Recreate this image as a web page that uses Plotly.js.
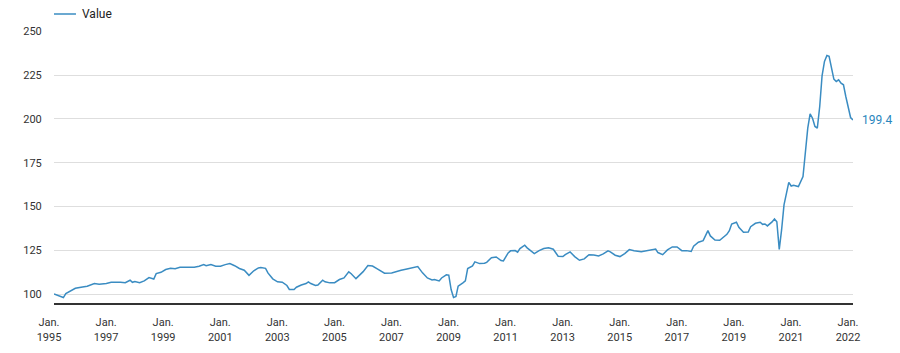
<!DOCTYPE html>
<html>
<head>
<meta charset="utf-8">
<script src="https://cdn.plot.ly/plotly-3.0.1.min.js"></script>
<style>html,body{margin:0;padding:0;background:#fff;}#chart{width:900px;height:353px;}</style>
</head>
<body>
<div id="chart"></div>
<script>
const seriesName = 'Value';
const dates = ['1995-01','1995-04','1995-05','1995-06','1995-08','1995-10','1996-01','1996-03','1996-06','1996-08','1996-11','1997-01','1997-05','1997-07','1997-09','1997-10','1997-11','1998-01','1998-03','1998-05','1998-07','1998-08','1998-10','1998-12','1999-02','1999-04','1999-06','1999-09','1999-12','2000-02','2000-04','2000-05','2000-07','2000-09','2000-11','2001-01','2001-03','2001-05','2001-07','2001-09','2001-11','2002-01','2002-03','2002-04','2002-06','2002-07','2002-09','2002-11','2003-01','2003-03','2003-04','2003-06','2003-07','2003-09','2003-11','2003-12','2004-01','2004-03','2004-04','2004-06','2004-07','2004-09','2004-11','2005-01','2005-03','2005-05','2005-06','2005-08','2005-11','2006-01','2006-03','2006-05','2006-07','2006-08','2006-11','2007-01','2007-03','2007-05','2007-07','2007-09','2007-10','2007-12','2008-02','2008-04','2008-05','2008-07','2008-08','2008-10','2008-11','2008-12','2009-01','2009-02','2009-03','2009-05','2009-06','2009-07','2009-09','2009-10','2009-12','2010-02','2010-03','2010-05','2010-07','2010-09','2010-10','2010-12','2011-01','2011-03','2011-04','2011-05','2011-07','2011-08','2011-10','2011-11','2012-01','2012-03','2012-05','2012-07','2012-09','2012-11','2012-12','2013-02','2013-04','2013-06','2013-08','2013-10','2013-12','2014-02','2014-04','2014-06','2014-07','2014-09','2014-11','2015-01','2015-03','2015-05','2015-08','2015-11','2016-01','2016-02','2016-03','2016-05','2016-07','2016-09','2016-11','2017-01','2017-03','2017-05','2017-06','2017-08','2017-10','2017-11','2017-12','2018-01','2018-03','2018-05','2018-06','2018-08','2018-09','2018-10','2018-12','2019-01','2019-03','2019-05','2019-06','2019-08','2019-10','2019-11','2019-12','2020-01','2020-03','2020-04','2020-05','2020-06','2020-07','2020-08','2020-10','2020-11','2020-12','2021-01','2021-02','2021-04','2021-05','2021-06','2021-07','2021-08','2021-09','2021-10','2021-11','2021-12','2022-01','2022-02','2022-03','2022-04','2022-05','2022-06','2022-07','2022-08','2022-09','2022-10','2022-11','2022-12','2023-01'];
const values = [100.0,98.2,98.0,100.3,101.9,103.3,104.1,104.5,106.0,105.6,106.0,106.7,106.7,106.5,107.9,106.7,107.1,106.5,107.5,109.4,108.6,111.7,112.4,114.0,114.7,114.5,115.3,115.5,115.3,115.9,116.8,116.2,116.8,115.9,115.9,116.8,117.4,116.2,114.6,113.6,110.7,113.3,114.9,115.1,114.7,112.1,108.7,107.0,106.8,104.9,102.6,102.6,103.9,105.2,106.0,107.0,106.0,104.9,105.2,107.9,107.0,106.4,106.5,108.3,109.2,112.7,111.6,108.8,112.8,116.3,116.0,114.4,113.0,111.9,112.1,113.0,113.6,114.2,114.7,115.1,115.7,112.1,109.2,108.1,108.3,107.5,109.2,111.0,110.8,102.6,98.0,98.6,104.5,106.4,107.5,114.6,116.1,118.4,117.4,117.6,118.1,120.7,121.2,119.1,118.9,123.5,124.7,124.8,123.9,126.0,127.9,126.4,123.9,123.1,124.8,126.0,126.4,125.6,121.6,121.4,122.5,124.1,121.4,119.3,120.1,122.5,122.3,121.8,122.9,124.7,124.1,122.2,121.4,123.1,125.4,124.7,124.1,124.8,125.4,125.7,123.7,122.5,125.2,126.9,126.9,124.8,124.8,124.3,127.3,129.6,130.5,133.5,136.2,133.2,130.9,130.7,131.8,134.1,136.2,140.0,141.0,138.1,135.3,135.4,138.5,140.4,141.0,139.8,140.0,138.9,141.2,142.9,141.3,125.5,136.6,150.9,163.8,161.7,162.1,161.9,161.4,167.1,180.4,194.7,202.9,200.4,195.7,194.7,207.1,224.6,232.8,236.2,235.7,230.0,222.7,221.4,222.3,220.4,219.5,212.8,206.1,200.8,199.4];
const xTickVals = ['1995-01','1997-01','1999-01','2001-01','2003-01','2005-01','2007-01','2009-01','2011-01','2013-01','2015-01','2017-01','2019-01','2021-01','2023-01'];
const xTickText = ['Jan.<br>1995','Jan.<br>1997','Jan.<br>1999','Jan.<br>2001','Jan.<br>2003','Jan.<br>2005','Jan.<br>2007','Jan.<br>2009','Jan.<br>2011','Jan.<br>2013','Jan.<br>2015','Jan.<br>2017','Jan.<br>2019','Jan.<br>2021','Jan.<br>2022'];
const yTickVals = [100,125,150,175,200,225,250];

const lineColor = '#3a8cc2';
const lastDate = dates[dates.length-1];
const lastVal = values[values.length-1];

const trace = {
  x: dates, y: values, type: 'scatter', mode: 'lines', name: seriesName,
  line: {color: lineColor, width: 1.5}, hoverinfo: 'x+y', showlegend: false
};

const layout = {
  width: 900, height: 353,
  margin: {l: 54, r: 47, t: 31, b: 50, pad: 0},
  paper_bgcolor: '#fff', plot_bgcolor: '#fff',
  font: {family: 'Roboto, Arial, sans-serif', size: 11, color: '#333'},
  showlegend: false,
  xaxis: {
    type: 'date', range: ['1995-01-01', '2023-01-01'],
    tickmode: 'array', tickvals: xTickVals, ticktext: xTickText,
    showgrid: false, zeroline: false,
    showline: true, linecolor: '#333', linewidth: 2,
    ticks: 'outside', ticklen: 8, tickcolor: 'rgba(0,0,0,0)',
    ticklabelshift: -5,
    tickfont: {size: 11, color: '#333'}
  },
  yaxis: {
    range: [94.9, 250.2], tickmode: 'array', tickvals: yTickVals,
    showgrid: true, gridcolor: '#dedede', gridwidth: 1,
    zeroline: false, showline: false,
    ticks: 'outside', ticklen: 9, tickcolor: 'rgba(0,0,0,0)',
    tickfont: {size: 11, color: '#333'}
  },
  shapes: [{
    type: 'line', xref: 'paper', yref: 'paper',
    x0: 0, x1: 0.0275, y0: 1.0625, y1: 1.0625,
    line: {color: lineColor, width: 1.5}
  }],
  annotations: [{
    x: 0.033, y: 1.0625, xref: 'paper', yref: 'paper',
    text: seriesName, showarrow: false, xanchor: 'left', yanchor: 'middle',
    font: {size: 12, color: '#222', family: 'Roboto, Arial, sans-serif'}
  }, {
    x: lastDate, y: lastVal, xref: 'x', yref: 'y',
    text: lastVal.toFixed(1), showarrow: false,
    xanchor: 'left', yanchor: 'middle', xshift: 7,
    font: {size: 12, color: '#2a86bd', family: 'Roboto, Arial, sans-serif'}
  }]
};

Plotly.newPlot('chart', [trace], layout, {displayModeBar: false, staticPlot: true});
</script>
</body>
</html>
